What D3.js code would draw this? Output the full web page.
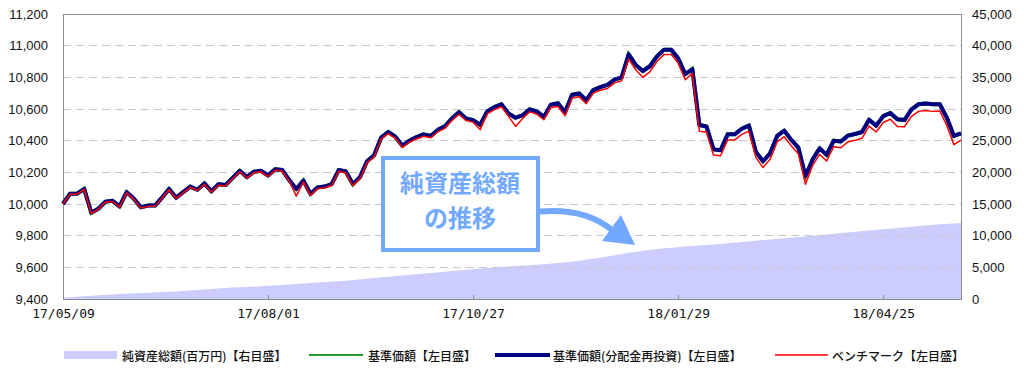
<!DOCTYPE html>
<html><head><meta charset="utf-8">
<script src="https://cdn.jsdelivr.net/npm/d3@7"></script>
<style>
html,body{margin:0;padding:0;background:#fff;}
svg{display:block;}
</style></head>
<body>
<svg id="chart" width="1024" height="369"></svg>
<script>
// ---- data (sampled every 2 trading days) ----
const xTickIndex = [0, 29, 58, 87, 116];
const xTickLabels = ['17/05/09', '17/08/01', '17/10/27', '18/01/29', '18/04/25'];
const leftTicks = [9400, 9600, 9800, 10000, 10200, 10400, 10600, 10800, 11000, 11200];
const rightTicks = [0, 5000, 10000, 15000, 20000, 25000, 30000, 35000, 40000, 45000];

// 基準価額(分配金再投資)
const navReinvest = [10000,10065,10065,10095,9945,9970,10015,10020,9985,10075,
10035,9979,9990,9990,10040,10095,10040,10075,10110,10090,
10130,10080,10125,10120,10165,10210,10170,10204,10210,10180,
10220,10215,10150,10095,10148,10063,10105,10110,10125,10215,
10205,10125,10170,10270,10308,10420,10455,10425,10368,10400,
10423,10440,10430,10468,10490,10540,10580,10540,10530,10500,
10585,10612,10630,10572,10545,10560,10598,10585,10550,10627,
10636,10580,10690,10698,10655,10720,10738,10752,10785,10800,
10945,10878,10840,10870,10932,10975,10975,10920,10820,10852,
10499,10490,10345,10340,10440,10440,10475,10495,10328,10270,
10320,10430,10463,10405,10356,10175,10280,10352,10310,10400,
10395,10432,10442,10455,10532,10495,10555,10575,10535,10530,
10598,10630,10635,10630,10630,10545,10430,10446];
// 基準価額 (no distributions paid, same as reinvested)
const nav = [10000,10065,10065,10095,9945,9970,10015,10020,9985,10075,
10035,9979,9990,9990,10040,10095,10040,10075,10110,10090,
10130,10080,10125,10120,10165,10210,10170,10204,10210,10180,
10220,10215,10150,10095,10148,10063,10105,10110,10125,10215,
10205,10125,10170,10270,10308,10420,10455,10425,10368,10400,
10423,10440,10430,10468,10490,10540,10580,10540,10530,10500,
10585,10612,10630,10572,10545,10560,10598,10585,10550,10627,
10636,10580,10690,10698,10655,10720,10738,10752,10785,10800,
10945,10878,10840,10870,10932,10975,10975,10920,10820,10852,
10499,10490,10345,10340,10440,10440,10475,10495,10328,10270,
10320,10430,10463,10405,10356,10175,10280,10352,10310,10400,
10395,10432,10442,10455,10532,10495,10555,10575,10535,10530,
10598,10630,10635,10630,10630,10545,10430,10446];
// ベンチマーク
const benchmark = [10000,10062,10062,10092,9940,9966,10012,10016,9980,10070,
10031,9974,9986,9985,10036,10090,10035,10070,10105,10085,
10124,10074,10119,10114,10159,10204,10164,10198,10203,10174,
10213,10208,10143,10050,10140,10055,10097,10102,10117,10207,
10196,10116,10161,10260,10298,10410,10445,10415,10358,10390,
10411,10428,10418,10456,10478,10527,10567,10527,10517,10470,
10569,10596,10614,10555,10490,10540,10582,10568,10532,10610,
10616,10558,10670,10678,10634,10700,10718,10730,10765,10778,
10915,10848,10800,10835,10900,10945,10945,10890,10785,10825,
10460,10455,10310,10305,10405,10405,10440,10460,10293,10230,
10282,10392,10425,10367,10318,10125,10242,10314,10272,10362,
10355,10392,10402,10415,10492,10455,10515,10535,10490,10488,
10553,10585,10590,10585,10588,10495,10375,10404];
// 純資産総額(百万円), every 4th sample
const assetIndex = [0,4,8,12,16,20,24,28,32,36,40,44,48,52,56,60,64,68,72,76,80,84,88,92,96,100,104,108,112,116,120,124,127];
const netAssets = [200,500,800,1000,1200,1500,1800,2000,2300,2600,2900,3300,3700,4100,4500,4900,5200,5500,5900,6500,7300,7900,8300,8600,9000,9400,9800,10200,10600,11000,11400,11800,12000];

const legendLabels = ['純資産総額(百万円)【右目盛】', '基準価額【左目盛】', '基準価額(分配金再投資)【左目盛】', 'ベンチマーク【左目盛】'];
const noteLines = ['純資産総額', 'の推移'];

// ---- layout ----
const L = 63, R = 961, T = 14, B = 299;
const svg = d3.select('#chart');
const x = d3.scaleLinear().domain([0, navReinvest.length - 1]).range([L, R]);
const yL = d3.scaleLinear().domain([9400, 11200]).range([B, T]);
const yR = d3.scaleLinear().domain([0, 45000]).range([B, T]);

const numFont = '"Liberation Sans", Arial, sans-serif';
const jpFont = '"Noto Sans CJK JP", sans-serif';

// area
const area = d3.area().x((d, i) => x(assetIndex[i])).y0(yR(0)).y1(d => yR(d));
svg.append('path').datum(netAssets).attr('d', area).attr('fill', '#ccccff');

// grid
svg.append('g').selectAll('line').data(leftTicks.slice(1, -1)).join('line')
  .attr('x1', L).attr('x2', R).attr('y1', d => yL(d)).attr('y2', d => yL(d))
  .attr('stroke', '#c8c8c8').attr('stroke-width', 1).attr('stroke-dasharray', '8,5')
  .attr('shape-rendering', 'crispEdges');

// frame
svg.append('rect').attr('x', L).attr('y', T).attr('width', R - L).attr('height', B - T)
  .attr('fill', 'none').attr('stroke', '#8c8c8c').attr('stroke-width', 1).attr('shape-rendering', 'crispEdges');

// axes
const gL = svg.append('g').attr('transform', `translate(${L},0)`)
  .call(d3.axisLeft(yL).tickValues(leftTicks).tickFormat(d3.format(',')).tickSize(0).tickPadding(15));
const gR = svg.append('g').attr('transform', `translate(${R},0)`)
  .call(d3.axisRight(yR).tickValues(rightTicks).tickFormat(d3.format(',')).tickSize(0).tickPadding(11));
const gX = svg.append('g').attr('transform', `translate(0,${B})`)
  .call(d3.axisBottom(x).tickValues(xTickIndex).tickFormat((d, i) => xTickLabels[i]).tickSizeInner(-4).tickSizeOuter(0).tickPadding(10));
[gL, gR, gX].forEach(g => {
  g.select('.domain').remove();
  g.selectAll('text').attr('font-family', numFont).attr('font-size', 13).attr('fill', '#111');
});
gX.selectAll('text').attr('font-family', '"DejaVu Sans Mono", monospace').attr('font-size', 13);
gX.selectAll('line').attr('stroke', '#8c8c8c');

// lines
const line = d3.line().x((d, i) => x(i)).y(d => yL(d));
svg.append('path').datum(nav).attr('d', line).attr('fill', 'none').attr('stroke', '#2e9a2e').attr('stroke-width', 4);
svg.append('path').datum(navReinvest).attr('d', line).attr('fill', 'none').attr('stroke', '#000080').attr('stroke-width', 4).attr('stroke-linejoin', 'round');
svg.append('path').datum(benchmark).attr('d', line).attr('fill', 'none').attr('stroke', '#ff0000').attr('stroke-width', 1.5).attr('stroke-linejoin', 'round');

// annotation
const noteColor = '#72a9ff';
const ann = svg.append('g');
ann.append('rect').attr('x', 383).attr('y', 158).attr('width', 155).attr('height', 92)
  .attr('fill', '#fff').attr('stroke', noteColor).attr('stroke-width', 4);
ann.selectAll('text').data(noteLines).join('text')
  .attr('x', 460).attr('y', (d, i) => 181 + i * 35.5)
  .attr('text-anchor', 'middle').attr('dominant-baseline', 'central')
  .attr('font-family', jpFont).attr('font-weight', 'bold').attr('font-size', 24)
  .attr('fill', noteColor).text(d => d);
ann.append('path').attr('d', 'M540,211.5 C570,209 595,216 612,230')
  .attr('fill', 'none').attr('stroke', noteColor).attr('stroke-width', 6);
ann.append('path').attr('d', 'M602,241 L621,215 L635,245 Z').attr('fill', noteColor);

// legend
const lg = svg.append('g');
const ly = 355;
lg.append('rect').attr('x', 64).attr('y', 351).attr('width', 53).attr('height', 8).attr('fill', '#ccccff');
lg.append('line').attr('x1', 309).attr('x2', 363).attr('y1', ly).attr('y2', ly).attr('stroke', '#2e9a2e').attr('stroke-width', 2);
lg.append('line').attr('x1', 495).attr('x2', 550).attr('y1', ly).attr('y2', ly).attr('stroke', '#000080').attr('stroke-width', 4);
lg.append('line').attr('x1', 775).attr('x2', 828).attr('y1', ly).attr('y2', ly).attr('stroke', '#ff0000').attr('stroke-width', 1.5);
const lx = [122, 368, 553, 832];
lg.selectAll('text').data(legendLabels).join('text')
  .attr('x', (d, i) => lx[i]).attr('y', ly).attr('dominant-baseline', 'central')
  .attr('font-family', jpFont).attr('font-size', 12).attr('font-weight', 500).attr('fill', '#111').text(d => d);
</script>
</body></html>
